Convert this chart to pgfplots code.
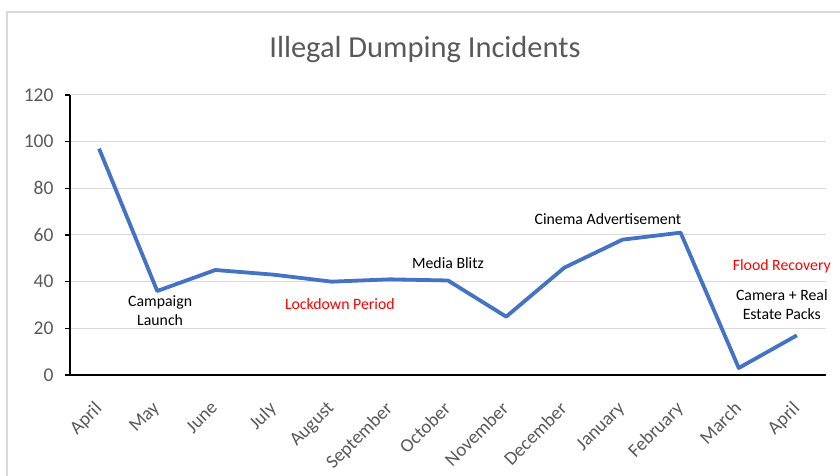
\documentclass[border=0pt]{standalone}
\usepackage{pgfplots}
\pgfplotsset{compat=1.18}
\usepackage{fontspec}
\setmainfont{Carlito}
\definecolor{xlblue}{RGB}{68,114,196}
\definecolor{txtgray}{RGB}{89,89,89}
\definecolor{gridgray}{RGB}{217,217,217}
\begin{document}
\begin{tikzpicture}[x=1pt,y=1pt]
  \useasboundingbox (0,0) rectangle (840,476);
  \draw[gridgray, line width=2pt] (7,0) -- (7,463.5) -- (840,463.5);
  \node[txtgray, font=\fontsize{30.5}{34}\selectfont] at (425,426) {Illegal Dumping Incidents};
  \begin{axis}[
    at={(70pt,101pt)}, anchor=south west,
    scale only axis, width=756pt, height=280pt,
    xmin=-0.5, xmax=12.5, ymin=0, ymax=120,
    axis x line=bottom, axis y line=left,
    axis line style={-, black, line width=1.2pt},
    ytick={0,20,...,120},
    ymajorgrids, grid style={gridgray, line width=1pt},
    tick align=outside, major tick length=5pt,
    tick style={black, line width=1.2pt},
    xtick={0,...,12},
    xticklabels={April,May,June,July,August,September,October,November,December,January,February,March,April},
    x tick style={draw=none},
    extra x ticks={-0.5,0.5,...,12.5},
    extra x tick labels={},
    extra x tick style={tick style={draw=black, line width=1.2pt}, major tick length=5pt},
    x tick label style={rotate=45, anchor=north east, font=\fontsize{19}{22}\selectfont, text=txtgray, yshift=-7pt, xshift=-15pt},
    y tick label style={font=\fontsize{19.5}{22}\selectfont, text=txtgray, xshift=-8pt},
    /pgf/number format/assume math mode=true,
    clip=false,
  ]
    \addplot[xlblue, line width=3.8pt, line join=round, mark=none] coordinates {
      (0,97) (1,36) (2,45) (3,43) (4,40) (5,41) (6,40.5)
      (7,25) (8,46) (9,58) (10,61) (11,3) (12,17)
    };
    \begin{scope}[font=\fontsize{15.8}{19}\selectfont]
      \node[black, align=center] at (axis cs:1.05,27.4) {Campaign\\Launch};
      \node[red] at (axis cs:4.14,30.4) {Lockdown Period};
      \node[black] at (axis cs:6.0,48) {Media Blitz};
      \node[black] at (axis cs:8.75,66.9) {Cinema Advertisement};
      \node[red] at (axis cs:11.74,46.7) {Flood Recovery};
      \node[black, align=center] at (axis cs:11.74,30) {Camera + Real\\Estate Packs};
    \end{scope}
  \end{axis}
\end{tikzpicture}
\end{document}
